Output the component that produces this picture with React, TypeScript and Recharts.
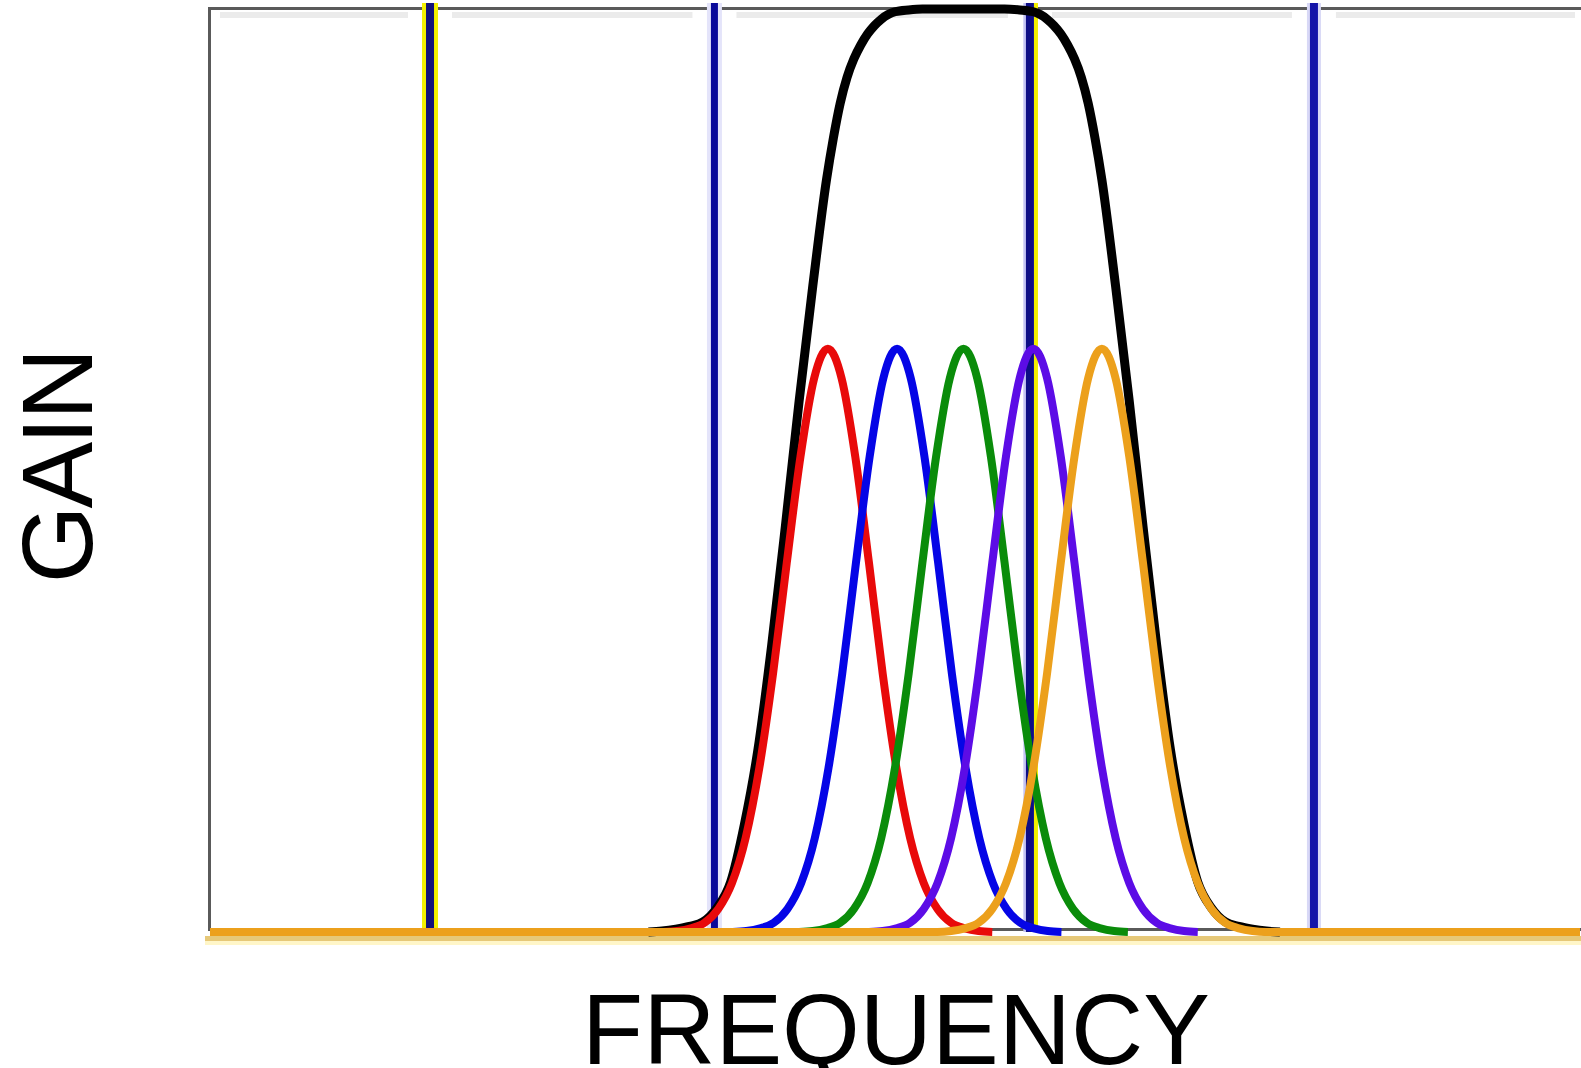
import React from "react";
import { LineChart, Line, XAxis, YAxis } from "recharts";

// frequency axis runs 0..100 across the plot frame, gain 0..1
const BLACK_F = [32, 33, 34, 35, 36, 37, 38, 39, 40, 41, 42, 43, 44, 45, 45.5, 46, 46.5, 47, 47.5, 48, 48.5, 49, 49.5, 50, 51, 52, 55, 58, 59.1, 60.1, 60.6, 61.1, 61.6, 62.1, 62.6, 63.1, 63.6, 64.1, 64.6, 65.1, 66.1, 67.1, 68.1, 69.1, 70.1, 71.1, 72.1, 73.1, 74.1, 75.1, 76.1, 77.1, 78.1];
const BLACK_G = [0, 0.001, 0.003, 0.006, 0.011, 0.026, 0.054, 0.116, 0.198, 0.311, 0.44, 0.575, 0.7, 0.815, 0.86, 0.898, 0.926, 0.946, 0.961, 0.973, 0.982, 0.989, 0.994, 0.997, 0.999, 1.0, 1.0, 1.0, 0.999, 0.997, 0.994, 0.989, 0.982, 0.973, 0.961, 0.946, 0.926, 0.898, 0.86, 0.815, 0.7, 0.575, 0.44, 0.311, 0.198, 0.116, 0.054, 0.026, 0.011, 0.006, 0.003, 0.001, 0];

const RED_F = [33.1, 34.1, 35.1, 36.1, 37.1, 38.1, 39.1, 40.1, 41.1, 42.1, 43.1, 44.1, 45.1, 46.1, 47.1, 48.1, 49.1, 50.1, 51.1, 52.1, 53.1, 54.1, 55.1, 56.1, 57.1];
const RED_G = [0, 0.001, 0.004, 0.01, 0.025, 0.053, 0.102, 0.178, 0.28, 0.4, 0.515, 0.6, 0.632, 0.6, 0.515, 0.4, 0.28, 0.178, 0.102, 0.053, 0.025, 0.01, 0.004, 0.001, 0];

const BLUE_F = [38.15, 39.15, 40.15, 41.15, 42.15, 43.15, 44.15, 45.15, 46.15, 47.15, 48.15, 49.15, 50.15, 51.15, 52.15, 53.15, 54.15, 55.15, 56.15, 57.15, 58.15, 59.15, 60.15, 61.15, 62.15];
const BLUE_G = [0, 0.001, 0.004, 0.01, 0.025, 0.053, 0.102, 0.178, 0.28, 0.4, 0.515, 0.6, 0.632, 0.6, 0.515, 0.4, 0.28, 0.178, 0.102, 0.053, 0.025, 0.01, 0.004, 0.001, 0];

const GREEN_F = [43.0, 44.0, 45.0, 46.0, 47.0, 48.0, 49.0, 50.0, 51.0, 52.0, 53.0, 54.0, 55.0, 56.0, 57.0, 58.0, 59.0, 60.0, 61.0, 62.0, 63.0, 64.0, 65.0, 66.0, 67.0];
const GREEN_G = [0, 0.001, 0.004, 0.01, 0.025, 0.053, 0.102, 0.178, 0.28, 0.4, 0.515, 0.6, 0.632, 0.6, 0.515, 0.4, 0.28, 0.178, 0.102, 0.053, 0.025, 0.01, 0.004, 0.001, 0];

const PURPLE_F = [48.1, 49.1, 50.1, 51.1, 52.1, 53.1, 54.1, 55.1, 56.1, 57.1, 58.1, 59.1, 60.1, 61.1, 62.1, 63.1, 64.1, 65.1, 66.1, 67.1, 68.1, 69.1, 70.1, 71.1, 72.1];
const PURPLE_G = [0, 0.001, 0.004, 0.01, 0.025, 0.053, 0.102, 0.178, 0.28, 0.4, 0.515, 0.6, 0.632, 0.6, 0.515, 0.4, 0.28, 0.178, 0.102, 0.053, 0.025, 0.01, 0.004, 0.001, 0];

const ORANGE_F = [0, 53.1, 54.1, 55.1, 56.1, 57.1, 58.1, 59.1, 60.1, 61.1, 62.1, 63.1, 64.1, 65.1, 66.1, 67.1, 68.1, 69.1, 70.1, 71.1, 72.1, 73.1, 74.1, 75.1, 76.1, 77.1, 100];
const ORANGE_G = [0, 0, 0.001, 0.004, 0.01, 0.025, 0.053, 0.102, 0.178, 0.28, 0.4, 0.515, 0.6, 0.632, 0.6, 0.515, 0.4, 0.28, 0.178, 0.102, 0.053, 0.025, 0.01, 0.004, 0.001, 0, 0];

// vertical marker frequencies
const MARKER_F = [16.06, 36.82, 59.85, 80.58];
const MARKER_TOP = 1.0065;
// the faint top gridline is broken around each marker
const GAP_G = [0.988, 0.998];

const zip = (f: number[], g: number[]) => f.map((x, i) => ({ f: x, g: g[i] }));
const vline = (x: number, g0 = 0, g1 = MARKER_TOP) => [{ f: x, g: g0 }, { f: x, g: g1 }];

const CURVES = [
  { key: "black", data: zip(BLACK_F, BLACK_G), color: "#000000", width: 9 },
  { key: "red", data: zip(RED_F, RED_G), color: "#e80a0a", width: 8 },
  { key: "blue", data: zip(BLUE_F, BLUE_G), color: "#0505e6", width: 8 },
  { key: "green", data: zip(GREEN_F, GREEN_G), color: "#0a8c0a", width: 8 },
  { key: "purple", data: zip(PURPLE_F, PURPLE_G), color: "#5c0ce6", width: 8 },
  { key: "orange", data: zip(ORANGE_F, ORANGE_G), color: "#eca01c", width: 8 },
];

const FONT = "'Liberation Sans', Arial, sans-serif";

function Marker({ x, color, width, g0, g1 }: { x: number; color: string; width: number; g0?: number; g1?: number }) {
  return (
    <Line
      key={`${x}-${color}-${width}`}
      data={vline(x, g0, g1)}
      dataKey="g"
      stroke={color}
      strokeWidth={width}
      dot={false}
      isAnimationActive={false}
    />
  );
}

export default function App() {
  return (
    <div style={{ position: "absolute", left: 0, top: 0, width: 1581, height: 1068, background: "#fff", overflow: "hidden" }}>
      {/* plot frame + faint top gridline + band under the baseline */}
      <div style={{ position: "absolute", left: 208, top: 7, width: 1380, height: 924, border: "3px solid #5a5a5a", boxSizing: "border-box" }} />
      <div style={{ position: "absolute", left: 220, top: 12, width: 1355, height: 6, background: "#ebebeb" }} />
      <div style={{ position: "absolute", left: 205, top: 936, width: 1376, height: 5, background: "#e6c878" }} />
      <div style={{ position: "absolute", left: 205, top: 941, width: 1376, height: 4, background: "#fff6c8" }} />

      <div style={{ position: "absolute", left: 0, top: 0 }}>
        <LineChart width={1581} height={1068} margin={{ top: 3, right: 1, left: 210, bottom: 124 }}>
          <XAxis dataKey="f" type="number" domain={[0, 100]} hide allowDuplicatedCategory={false} />
          <YAxis type="number" domain={[-0.013, MARKER_TOP]} hide />

          {MARKER_F.map((x) => Marker({ x, color: "#ffffff", width: 44, g0: GAP_G[0], g1: GAP_G[1] }))}

          {/* marker 1: navy with yellow edges */}
          {Marker({ x: MARKER_F[0], color: "#f2f000", width: 16 })}
          {Marker({ x: MARKER_F[0], color: "#12127a", width: 8 })}
          {/* marker 2 */}
          {Marker({ x: MARKER_F[1], color: "#e4e4fa", width: 15 })}
          {Marker({ x: MARKER_F[1], color: "#0a0a9a", width: 7 })}
          {/* marker 3: yellow edge on the right */}
          {Marker({ x: MARKER_F[2] - 0.3, color: "#c4c4f4", width: 5 })}
          {Marker({ x: MARKER_F[2] + 0.44, color: "#f2f000", width: 4 })}
          {Marker({ x: MARKER_F[2], color: "#0e0e86", width: 8 })}
          {/* marker 4 */}
          {Marker({ x: MARKER_F[3], color: "#d8d8f6", width: 14 })}
          {Marker({ x: MARKER_F[3], color: "#1414a8", width: 8 })}

          {CURVES.map((c) => (
            <Line
              key={c.key}
              data={c.data}
              dataKey="g"
              type="monotone"
              stroke={c.color}
              strokeWidth={c.width}
              dot={false}
              isAnimationActive={false}
            />
          ))}
        </LineChart>
      </div>

      <div
        style={{
          position: "absolute",
          left: 57,
          top: 467,
          transform: "translate(-50%, -50%) rotate(-90deg)",
          fontFamily: FONT,
          fontSize: 100,
          lineHeight: "100px",
          letterSpacing: -3,
          whiteSpace: "nowrap",
          color: "#000",
        }}
      >
        GAIN
      </div>
      <div
        style={{
          position: "absolute",
          left: 896,
          top: 979,
          transform: "translateX(-50%)",
          fontFamily: FONT,
          fontSize: 100,
          lineHeight: "100px",
          whiteSpace: "nowrap",
          color: "#000",
        }}
      >
        FREQUENCY
      </div>
    </div>
  );
}
